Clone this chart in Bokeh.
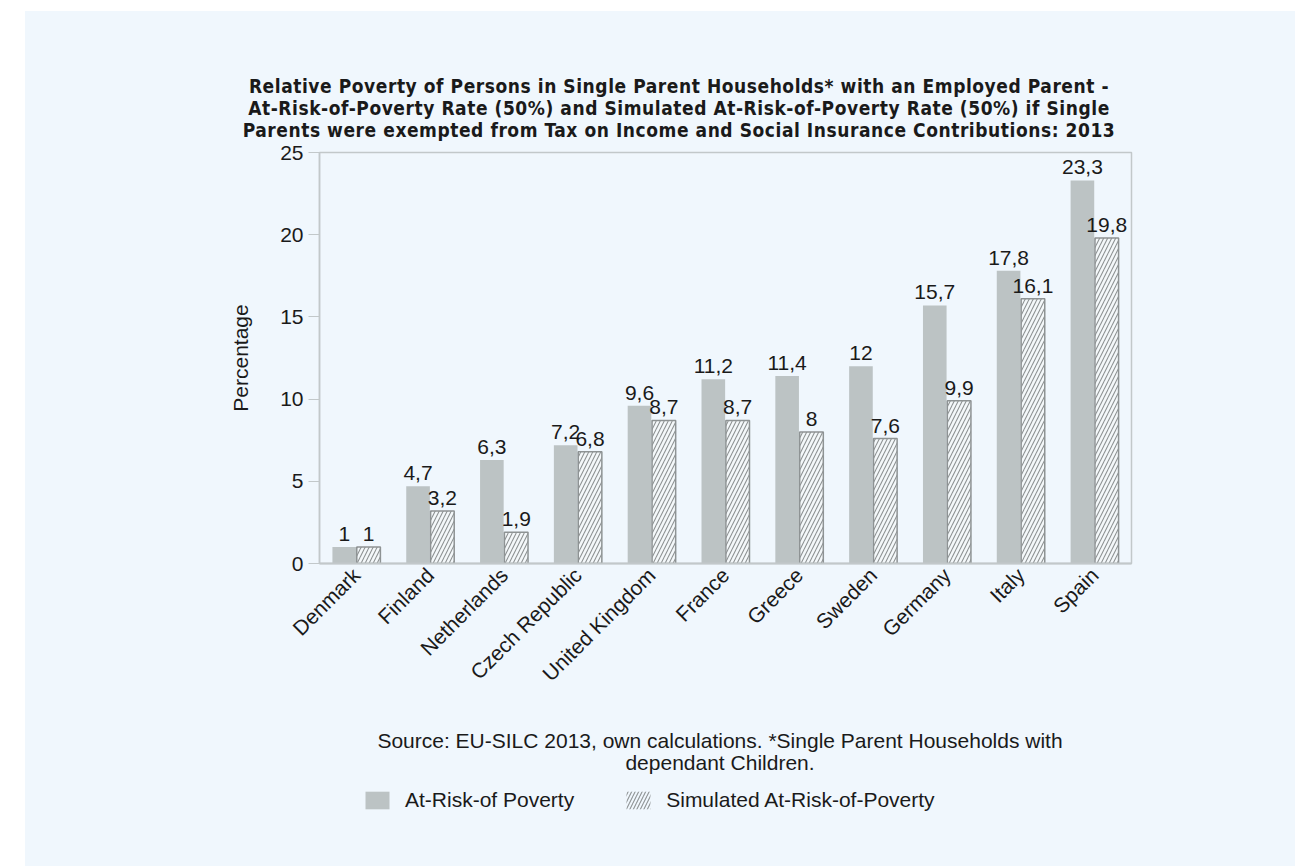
from bokeh.plotting import figure
from bokeh.models import (ColumnDataSource, LabelSet, Label, Legend, LegendItem, FactorRange,
                          SingleIntervalTicker, Div)
from bokeh.layouts import column
from bokeh.core.properties import value
from bokeh.transform import dodge
from bokeh.embed import file_html
from bokeh.resources import INLINE
import math

countries = ["Denmark", "Finland", "Netherlands", "Czech Republic", "United Kingdom",
             "France", "Greece", "Sweden", "Germany", "Italy", "Spain"]
at_risk = [1, 4.7, 6.3, 7.2, 9.6, 11.2, 11.4, 12, 15.7, 17.8, 23.3]
simulated = [1, 3.2, 1.9, 6.8, 8.7, 8.7, 8, 7.6, 9.9, 16.1, 19.8]
series_names = ["At-Risk-of Poverty", "Simulated At-Risk-of-Poverty"]
title_lines = ["Relative Poverty of Persons in Single Parent Households* with an Employed Parent -",
               "At-Risk-of-Poverty Rate (50%) and Simulated At-Risk-of-Poverty Rate (50%) if Single",
               "Parents were exempted from Tax on Income and Social Insurance Contributions: 2013"]
source_lines = ["Source: EU-SILC 2013, own calculations. *Single Parent Households with",
                "dependant Children."]


def fmt(v):
    return ("%g" % v).replace(".", ",")


src = ColumnDataSource(dict(
    country=countries, a=at_risk, s=simulated,
    a_lab=[fmt(v) for v in at_risk], s_lab=[fmt(v) for v in simulated],
))

BG = "#f0f7fd"
GRAY = "#bcc3c4"
AXIS = "#c2c8ca"
HATCH = "#8e9394"
TXT = "#1a1a1a"
FONT = "Liberation Sans"
TFONT = "DejaVu Sans Condensed"
FS = "21px"
W = 1270
BL, FW = 294, 812
BR = W - BL - FW

# ---- header with the three-line title
H_HEAD = 130
head = Div(
    text=('<div style="width:%dpx;box-sizing:border-box;padding-top:64px;'
          'padding-left:38px;text-align:center;font-family:\'%s\';font-weight:bold;'
          'font-size:19px;letter-spacing:0.55px;line-height:22px;color:%s;'
          'white-space:nowrap;">%s</div>'
          % (W, TFONT, TXT, "<br>".join(title_lines))),
    width=W, height=H_HEAD, margin=0,
    styles={"background-color": BG, "overflow": "visible"})

# ---- main chart
p = figure(x_range=FactorRange(*countries), y_range=(0, 25),
           frame_width=FW, frame_height=411,
           min_border_left=BL, min_border_right=BR, min_border_top=11,
           min_border_bottom=150,
           output_backend="svg", toolbar_location=None,
           background_fill_color=BG, border_fill_color=BG, border_fill_alpha=0, margin=0)

r1 = p.vbar(x=dodge("country", -0.165, range=p.x_range), top="a", width=0.32, source=src,
            fill_color=GRAY, line_color=None)
r2 = p.vbar(x=dodge("country", 0.165, range=p.x_range), top="s", width=0.32, source=src,
            fill_color="#f4f8fa", line_color=HATCH, line_width=1.5,
            hatch_pattern="/", hatch_color=HATCH, hatch_scale=8, hatch_weight=1.1)

for xo, col in ((-0.165, "a"), (0.165, "s")):
    p.add_layout(LabelSet(x=dodge("country", xo, range=p.x_range), y=col, text=col + "_lab",
                          source=src, text_align="center", text_baseline="bottom", y_offset=6,
                          text_font=value(FONT), text_font_size=value(FS), text_color=TXT))

p.xgrid.visible = False
p.ygrid.visible = False
p.outline_line_color = AXIS
p.outline_line_width = 1.5

p.yaxis.ticker = SingleIntervalTicker(interval=5)
p.yaxis.axis_label = "Percentage"
p.yaxis.axis_label_text_font = FONT
p.yaxis.axis_label_text_font_size = FS
p.yaxis.axis_label_text_font_style = "normal"
p.yaxis.axis_label_text_color = TXT
p.yaxis.axis_label_standoff = 25
p.yaxis.major_label_text_font = FONT
p.yaxis.major_label_text_font_size = FS
p.yaxis.major_label_text_color = TXT
p.yaxis.major_label_standoff = 5
p.yaxis.major_tick_out = 11
p.yaxis.major_tick_in = 0
p.yaxis.minor_tick_line_color = None
p.yaxis.major_tick_line_color = AXIS
p.yaxis.axis_line_color = AXIS
p.yaxis.axis_line_width = 1.5

p.xaxis.major_label_orientation = math.pi / 4
p.xaxis.major_label_text_font = FONT
p.xaxis.major_label_text_font_size = FS
p.xaxis.major_label_text_color = TXT
p.xaxis.major_label_standoff = 2
p.xaxis.major_tick_line_color = None
p.xaxis.axis_line_color = AXIS
p.xaxis.axis_line_width = 2

# ---- footer with source note and legend (frame aligned with the chart frame)
H_FOOT = 153
foot = figure(frame_width=FW, frame_height=H_FOOT, x_range=(0, FW), y_range=(0, H_FOOT),
              min_border_left=BL, min_border_right=BR, min_border_top=0, min_border_bottom=0,
              output_backend="svg", toolbar_location=None,
              background_fill_color=BG, border_fill_color=BG, margin=0)
foot.axis.visible = False
foot.grid.visible = False
foot.outline_line_color = None
for i, line in enumerate(source_lines):
    foot.add_layout(Label(x=400.5, y=H_FOOT - 27 - i * 22, text=line, text_align="center",
                          text_baseline="middle", text_font=FONT, text_font_size=FS,
                          text_color=TXT))

g1 = foot.vbar(x=[-500], top=[-500], width=1, fill_color=GRAY, line_color=None)
g2 = foot.vbar(x=[-500], top=[-500], width=1, fill_color=BG, line_color=None,
               hatch_pattern="/", hatch_color=HATCH, hatch_scale=7, hatch_weight=1.1)
legend = Legend(items=[LegendItem(label=series_names[0], renderers=[g1]),
                       LegendItem(label=series_names[1], renderers=[g2])],
                orientation="horizontal", location=(43, H_FOOT - 99),
                background_fill_alpha=0, border_line_color=None,
                padding=0, margin=0, spacing=49, glyph_width=30, glyph_height=22,
                label_standoff=13, label_text_font=FONT, label_text_font_size=FS,
                label_text_color=TXT, label_height=22)
foot.add_layout(legend, "center")

layout = column(head, p, foot, spacing=0, margin=(11, 0, 0, 25),
                styles={"background-color": BG})
open("out.html", "w").write(file_html(layout, INLINE))
